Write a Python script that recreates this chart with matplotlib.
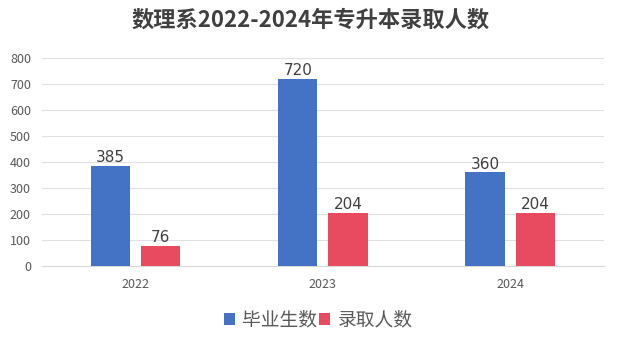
import numpy as np
import matplotlib
matplotlib.use("Agg")
import matplotlib.pyplot as plt

plt.rcParams['font.family'] = ['Noto Sans CJK SC', 'DejaVu Sans']

years = ["2022", "2023", "2024"]
graduates = [385, 720, 360]
admitted = [76, 204, 204]
series_names = ["毕业生数", "录取人数"]
title = "数理系2022-2024年专升本录取人数"

fig = plt.figure(figsize=(6.18, 3.43), dpi=100)
ax = fig.add_axes([0.068, 0.2245, 0.909, 0.6065])

x = np.arange(len(years))
w = 0.21
off = 0.134
b1 = ax.bar(x - off, graduates, w, color="#4472C4", label=series_names[0], zorder=3)
b2 = ax.bar(x + off, admitted, w, color="#E84A5F", label=series_names[1], zorder=3)

for bars in (b1, b2):
    for rect in bars:
        ax.text(rect.get_x() + rect.get_width() / 2, rect.get_height() + 3,
                str(int(rect.get_height())), ha="center", va="bottom",
                fontsize=11, color="#404040", family="DejaVu Sans")

ax.set_xlim(-0.5, 2.5)
ax.set_ylim(0, 800)
ax.set_yticks(range(0, 801, 100))
ax.set_xticks(x)
ax.set_xticklabels(years)
ax.grid(axis="y", color="#E0E0E0", linewidth=0.8, zorder=0)
for s in ["top", "right", "left"]:
    ax.spines[s].set_visible(False)
ax.spines["bottom"].set_color("#D9D9D9")
ax.tick_params(axis="both", length=0, labelsize=9, colors="#595959")
ax.tick_params(axis="x", pad=9)
ax.tick_params(axis="y", pad=8)

fig.text(0.503, 0.94, title, ha="center", va="center", fontsize=16,
         fontweight="bold", color="#404040")

fig.legend(loc="center", bbox_to_anchor=(0.515, 0.067), ncol=2, frameon=False,
           fontsize=13.5, handlelength=0.6, handleheight=0.6, handletextpad=0.4,
           columnspacing=0.1, labelcolor="#595959")

fig.savefig("out.png", dpi=100)
